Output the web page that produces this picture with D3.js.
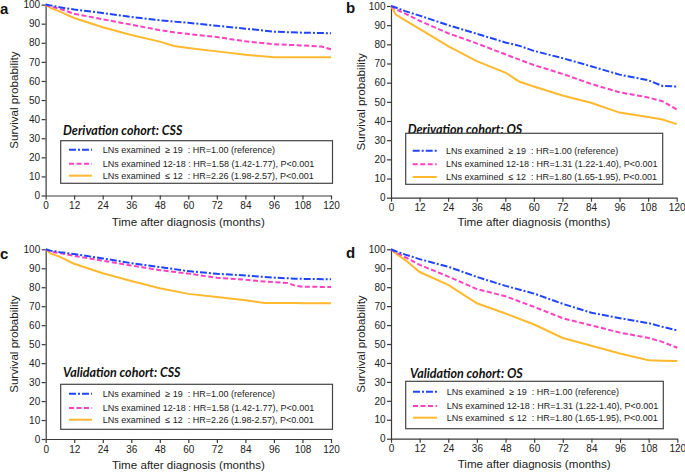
<!DOCTYPE html>
<html><head><meta charset="utf-8">
<script src="https://cdn.jsdelivr.net/npm/d3@7/dist/d3.min.js"></script>
<style>body{margin:0;background:#fff}svg{display:block}</style>
</head><body><svg id="chart" width="685" height="472"></svg>
<script>
// ---------- DATA ----------
const xTicks = [0, 12, 24, 36, 48, 60, 72, 84, 96, 108, 120];
const yTicks = [0, 10, 20, 30, 40, 50, 60, 70, 80, 90, 100];

const monthsA = [0, 2, 6, 12, 24, 36, 48, 54, 60, 72, 84, 96, 108, 116, 120];
const blueA   = [100, 99.6, 98.6, 97.4, 95.6, 93.5, 91.8, 91.1, 90.5, 88.9, 87.4, 85.8, 85.3, 85.1, 85.0];
const pinkA   = [100, 99.0, 97.8, 95.2, 92.3, 89.5, 86.6, 85.5, 84.6, 83.0, 80.8, 79.2, 78.6, 78.0, 76.6];
const orangeA = [100, 98.3, 96.3, 93.0, 88.1, 84.1, 80.6, 78.3, 77.3, 75.5, 73.7, 72.4, 72.4, 72.4, 72.4];

const monthsB = [0, 2, 6, 12, 24, 36, 48, 54, 60, 72, 84, 96, 108, 114, 120];
const blueB   = [100, 99.2, 97.3, 95.0, 90.0, 85.5, 81.0, 79.2, 76.6, 72.8, 68.6, 64.2, 61.3, 58.3, 58.0];
const pinkB   = [100, 98.3, 96.0, 92.3, 85.8, 80.5, 74.8, 72.0, 69.2, 64.6, 59.4, 55.0, 52.3, 50.3, 46.0];
const orangeB = [100, 95.5, 92.5, 88.1, 79.1, 71.2, 65.3, 60.5, 58.0, 53.3, 49.5, 44.4, 42.1, 40.8, 38.4];

const monthsC = [0, 2, 6, 12, 24, 36, 48, 60, 72, 84, 92, 102, 105, 108, 120];
const blueC   = [100, 99.3, 98.5, 97.5, 95.2, 92.7, 90.6, 88.5, 87.1, 86.2, 85.4, 84.7, 84.5, 84.4, 84.2];
const pinkC   = [100, 98.8, 98.0, 96.5, 94.0, 91.5, 89.0, 87.2, 85.0, 84.0, 83.0, 82.2, 80.8, 80.3, 80.1];
const orangeC = [100, 97.8, 96.0, 92.4, 87.4, 83.3, 79.5, 76.5, 74.8, 73.2, 71.7, 71.7, 71.7, 71.6, 71.6];

const monthsD = [0, 2, 6, 12, 24, 36, 48, 60, 72, 84, 96, 108, 114, 120];
const blueD   = [100, 99.0, 97.2, 94.8, 90.8, 85.4, 80.7, 76.6, 71.2, 66.5, 63.6, 61.0, 59.0, 57.2];
const pinkD   = [100, 98.4, 95.8, 91.8, 85.6, 79.0, 75.2, 69.6, 63.6, 59.8, 56.0, 53.2, 51.0, 48.0];
const orangeD = [100, 97.8, 94.3, 88.0, 81.2, 71.5, 66.1, 60.3, 53.2, 49.1, 45.0, 41.4, 41.2, 41.0];

const legendCSS = ["LNs examined  \u2265 19  : HR=1.00 (reference)",
                   "LNs examined 12-18 : HR=1.58 (1.42-1.77), P<0.001",
                   "LNs examined  \u2264 12  : HR=2.26 (1.98-2.57), P<0.001"];
const legendOS  = ["LNs examined  \u2265 19  : HR=1.00 (reference)",
                   "LNs examined 12-18 : HR=1.31 (1.22-1.40), P<0.001",
                   "LNs examined  \u2264 12  : HR=1.80 (1.65-1.95), P<0.001"];
const titles = ["Derivation cohort: CSS", "Derivation cohort: OS", "Validation cohort: CSS", "Validation cohort: OS"];
const letters = ["a", "b", "c", "d"];
const xLabel = "Time after diagnosis (months)";
const yLabel = "Survival probability";

// ---------- STYLE / LAYOUT ----------
const colors = ["#1f45fc", "#ff40c0", "#ffb92e"];
const dashes = ["7,2,2,2", "5,2.5", null];

const panels = [
  {months: monthsA, series: [blueA, pinkA, orangeA], legend: legendCSS,
   x0: 45.6, x1: 331, yTop: 4.6, yBot: 195.5, letter: [0, 14], xTitleY: 225.5, yTitleX: 14,
   box: [60.7, 140.7, 332.5, 183.3], titleXY: [63, 135], rows: [149.7, 163.7, 175.7], lineX: [69, 92], textX: 102.7},
  {months: monthsB, series: [blueB, pinkB, orangeB], legend: legendOS,
   x0: 391, x1: 676.7, yTop: 6, yBot: 197.7, letter: [346, 13], xTitleY: 225.5, yTitleX: 360.5,
   box: [405.7, 133.3, 662.7, 184.3], titleXY: [407.7, 134], rows: [150.7, 164.3, 177], lineX: [412.7, 436.7], textX: 446},
  {months: monthsC, series: [blueC, pinkC, orangeC], legend: legendCSS,
   x0: 45.7, x1: 331, yTop: 249.3, yBot: 439, letter: [0, 259], xTitleY: 468.5, yTitleX: 14,
   box: [60.7, 384.3, 332.5, 429.3], titleXY: [63, 377], rows: [393.7, 408, 419.7], lineX: [69, 92], textX: 102.7},
  {months: monthsD, series: [blueD, pinkD, orangeD], legend: legendOS,
   x0: 391, x1: 677.3, yTop: 249.3, yBot: 438.7, letter: [346, 258], xTitleY: 468, yTitleX: 360.5,
   box: [405.7, 381.3, 663.3, 428.7], titleXY: [410, 377.5], rows: [391.7, 406, 417.7], lineX: [413, 437], textX: 446.7}
];

const svg = d3.select("#chart");
const FONT = "'Liberation Sans', Arial, sans-serif";

panels.forEach((p, i) => {
  const x = d3.scaleLinear().domain([0, 120]).range([p.x0, p.x1]);
  const y = d3.scaleLinear().domain([0, 100]).range([p.yBot, p.yTop]);
  const g = svg.append("g");

  // axes
  const ax = g.append("g").attr("transform", `translate(0,${p.yBot})`)
    .call(d3.axisBottom(x).tickValues(xTicks).tickSize(4).tickSizeOuter(0).tickPadding(2.5));
  const ay = g.append("g").attr("transform", `translate(${p.x0},0)`)
    .call(d3.axisLeft(y).tickValues(yTicks).tickSize(4).tickSizeOuter(0).tickPadding(1.5));
  [ax, ay].forEach(a => {
    a.selectAll("path,line").attr("stroke", "#3a3a3a").attr("stroke-width", 1.2);
    a.selectAll("text").attr("fill", "#222").style("font-family", FONT).style("font-size", "10px");
  });

  // axis titles
  g.append("text").attr("x", (p.x0 + p.x1) / 2).attr("y", p.xTitleY)
    .attr("text-anchor", "middle").style("font-family", FONT).style("font-size", "11.6px")
    .attr("fill", "#222").text(xLabel);
  g.append("text").attr("transform", `translate(${p.yTitleX + 4},${(p.yTop + p.yBot) / 2}) rotate(-90)`)
    .attr("text-anchor", "middle").style("font-family", FONT).style("font-size", "11.6px")
    .attr("fill", "#222").text(yLabel);

  // panel letter
  g.append("text").attr("x", p.letter[0]).attr("y", p.letter[1])
    .style("font-family", FONT).style("font-weight", "bold").style("font-size", "15px")
    .attr("fill", "#111").text(letters[i]);

  // curves (orange first so blue on top)
  const line = d3.line().x((d, k) => x(p.months[k])).y(d => y(d)).curve(d3.curveLinear);
  [2, 1, 0].forEach(s => {
    g.append("path").datum(p.series[s]).attr("d", line)
      .attr("fill", "none").attr("stroke", colors[s]).attr("stroke-width", 2)
      .attr("stroke-dasharray", dashes[s]);
  });

  // legend
  g.append("text").attr("x", p.titleXY[0]).attr("y", p.titleXY[1])
    .style("font-family", "Lato, 'Open Sans', sans-serif").style("font-weight", "bold")
    .style("font-style", "italic").style("font-size", "12.5px").attr("fill", "#111").text(titles[i]);
  g.append("rect").attr("x", p.box[0]).attr("y", p.box[1])
    .attr("width", p.box[2] - p.box[0]).attr("height", p.box[3] - p.box[1])
    .attr("fill", "#fff").attr("stroke", "#444").attr("stroke-width", 1.2);
  p.legend.forEach((t, s) => {
    g.append("line").attr("x1", p.lineX[0]).attr("x2", p.lineX[1])
      .attr("y1", p.rows[s]).attr("y2", p.rows[s])
      .attr("stroke", colors[s]).attr("stroke-width", 2).attr("stroke-dasharray", dashes[s]);
    g.append("text").attr("x", p.textX).attr("y", p.rows[s]).attr("dy", "0.35em")
      .style("font-family", FONT).style("font-size", "9px").style("white-space", "pre")
      .attr("xml:space", "preserve").attr("fill", "#222").text(t);
  });
});
</script></body></html>
